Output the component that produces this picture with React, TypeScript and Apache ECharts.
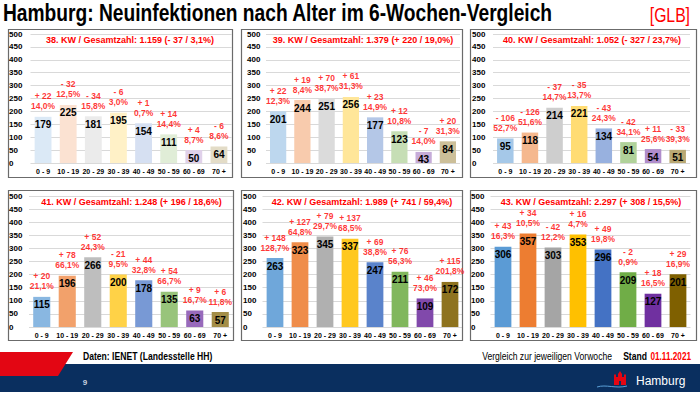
import React, { useEffect, useRef } from "react";
import * as echarts from "echarts";

const categories = ["0 - 9", "10 - 19", "20 - 29", "30 - 39", "40 - 49", "50 - 59", "60 - 69", "70 +"];
const yTicks = { min: 0, max: 500, interval: 50 };

const weekTitles = [
  "38. KW / Gesamtzahl: 1.159 (- 37 / 3,1%)",
  "39. KW / Gesamtzahl: 1.379 (+ 220 / 19,0%)",
  "40. KW / Gesamtzahl: 1.052 (- 327 / 23,7%)",
  "41. KW / Gesamtzahl: 1.248 (+ 196 / 18,6%)",
  "42. KW / Gesamtzahl: 1.989 (+ 741 / 59,4%)",
  "43. KW / Gesamtzahl: 2.297 (+ 308 / 15,5%)",
];

const kw38Values = [179, 225, 181, 195, 154, 111, 50, 64];
const kw39Values = [201, 244, 251, 256, 177, 123, 43, 84];
const kw40Values = [95, 118, 214, 221, 134, 81, 54, 51];
const kw41Values = [115, 196, 266, 200, 178, 135, 63, 57];
const kw42Values = [263, 323, 345, 337, 247, 211, 109, 172];
const kw43Values = [306, 357, 303, 353, 296, 209, 127, 201];

const kw38Change = ["+ 22", "- 32", "- 34", "- 6", "+ 1", "+ 14", "+ 4", "- 6"];
const kw39Change = ["+ 22", "+ 19", "+ 70", "+ 61", "+ 23", "+ 12", "- 7", "+ 20"];
const kw40Change = ["- 106", "- 126", "- 37", "- 35", "- 43", "- 42", "+ 11", "- 33"];
const kw41Change = ["+ 20", "+ 78", "+ 52", "- 21", "+ 44", "+ 54", "+ 9", "+ 6"];
const kw42Change = ["+ 148", "+ 127", "+ 79", "+ 137", "+ 69", "+ 76", "+ 46", "+ 115"];
const kw43Change = ["+ 43", "+ 34", "- 42", "+ 16", "+ 49", "- 2", "+ 18", "+ 29"];

const kw38Pct = ["14,0%", "12,5%", "15,8%", "3,0%", "0,7%", "14,4%", "8,7%", "8,6%"];
const kw39Pct = ["12,3%", "8,4%", "38,7%", "31,3%", "14,9%", "10,8%", "14,0%", "31,3%"];
const kw40Pct = ["52,7%", "51,6%", "14,7%", "13,7%", "24,3%", "34,1%", "25,6%", "39,3%"];
const kw41Pct = ["21,1%", "66,1%", "24,3%", "9,5%", "32,8%", "66,7%", "16,7%", "11,8%"];
const kw42Pct = ["128,7%", "64,8%", "29,7%", "68,5%", "38,8%", "56,3%", "73,0%", "201,8%"];
const kw43Pct = ["16,3%", "10,5%", "12,2%", "4,7%", "19,8%", "0,9%", "16,5%", "16,9%"];

const allValues = [kw38Values, kw39Values, kw40Values, kw41Values, kw42Values, kw43Values];
const allChanges = [kw38Change, kw39Change, kw40Change, kw41Change, kw42Change, kw43Change];
const allPcts = [kw38Pct, kw39Pct, kw40Pct, kw41Pct, kw42Pct, kw43Pct];

const categoryColors = ["#5B9BD5", "#ED7D31", "#A5A5A5", "#FFC000", "#4472C4", "#70AD47", "#7030A0", "#7F6000"];
const weekStrength = [0.22, 0.4, 0.55, 0.72, 0.88, 1];

// layout of the six panels
const layout = [
  { left: 30.5, width: 201, top: 34, height: 129, labelX: 9, box: [8, 29, 224, 148], tx: 130, ty: 40 },
  { left: 266, width: 194, top: 34, height: 129, labelX: 247, box: [241, 29, 221, 148], tx: 363, ty: 40 },
  { left: 493, width: 197, top: 34, height: 129, labelX: 472, box: [470, 29, 226, 148], tx: 592, ty: 40 },
  { left: 29, width: 204, top: 196, height: 131, labelX: 9, box: [8, 190, 225, 150], tx: 131.5, ty: 202 },
  { left: 262.5, width: 200, top: 196, height: 131, labelX: 243, box: [241, 190, 221, 150], tx: 362, ty: 202 },
  { left: 490.5, width: 200, top: 196, height: 131, labelX: 471, box: [470, 190, 226, 150], tx: 591, ty: 202 },
];

const FONT = '"Liberation Sans", Arial, Helvetica, sans-serif';

function blend(hex: string, a: number) {
  const r = parseInt(hex.slice(1, 3), 16);
  const g = parseInt(hex.slice(3, 5), 16);
  const b = parseInt(hex.slice(5, 7), 16);
  const m = (c: number) => Math.round(255 - a * (255 - c));
  return `rgb(${m(r)},${m(g)},${m(b)})`;
}

export default function App() {
  const ref = useRef<HTMLDivElement>(null);
  useEffect(() => {
    if (!ref.current) return;
    const chart = echarts.init(ref.current, undefined, { renderer: "svg" });

    const grids: any[] = [];
    const xAxes: any[] = [];
    const yAxes: any[] = [];
    const series: any[] = [];
    const graphics: any[] = [];

    layout.forEach((p, i) => {
      grids.push({ left: p.left, top: p.top, width: p.width, height: p.height, containLabel: false });
      xAxes.push({
        type: "category",
        gridIndex: i,
        data: categories,
        axisLine: { show: false },
        axisTick: { show: false },
        axisLabel: { interval: 0, fontSize: 7, fontWeight: "bold", color: "#000", margin: 5, fontFamily: FONT },
      });
      yAxes.push({
        type: "value",
        gridIndex: i,
        min: yTicks.min,
        max: yTicks.max,
        interval: yTicks.interval,
        axisLine: { show: false },
        axisTick: { show: false },
        splitLine: { lineStyle: { color: "#d9d9d9", width: 1 } },
        axisLabel: {
          fontSize: 8,
          fontWeight: "bold",
          color: "#000",
          align: "left",
          margin: p.left - p.labelX,
          fontFamily: FONT,
        },
      });
      series.push({
        type: "bar",
        xAxisIndex: i,
        yAxisIndex: i,
        barWidth: "67%",
        data: allValues[i].map((v, j) => ({
          value: v,
          itemStyle: { color: blend(categoryColors[j], weekStrength[i]) },
        })),
        label: {
          show: true,
          position: "insideTop",
          distance: 3,
          fontSize: 10,
          fontWeight: "bold",
          color: "#000",
          fontFamily: FONT,
        },
      });
      series.push({
        type: "scatter",
        xAxisIndex: i,
        yAxisIndex: i,
        symbolSize: 1,
        itemStyle: { color: "rgba(0,0,0,0)" },
        data: allValues[i],
        label: {
          show: true,
          position: "top",
          distance: 5,
          fontSize: 8.5,
          lineHeight: 10,
          fontWeight: "bold",
          color: "#ff0000",
          fontFamily: FONT,
          formatter: (prm: any) => `${allChanges[i][prm.dataIndex]}\n${allPcts[i][prm.dataIndex]}`,
        },
        z: 5,
      });
      graphics.push({
        type: "rect",
        shape: { x: p.box[0] + 0.5, y: p.box[1] + 0.5, width: p.box[2], height: p.box[3] },
        style: { fill: "none", stroke: "#6b6b6b", lineWidth: 1.2 },
        z: 1,
      });
      graphics.push({
        type: "text",
        x: p.tx,
        y: p.ty,
        style: {
          text: weekTitles[i],
          fill: "#ff0000",
          font: `bold 9px ${FONT}`,
          align: "center",
          verticalAlign: "middle",
        },
        z: 10,
      });
    });

    // main title
    graphics.push({
      type: "text",
      x: 3,
      y: 13,
      scaleX: 0.8,
      style: {
        text: "Hamburg: Neuinfektionen nach Alter im 6-Wochen-Vergleich",
        fill: "#000",
        font: `bold 24px ${FONT}`,
        align: "left",
        verticalAlign: "middle",
      },
    });
    graphics.push({
      type: "text",
      x: 690,
      y: 15,
      scaleX: 0.75,
      style: { text: "[GLB]", fill: "#ff0000", font: `21px ${FONT}`, align: "right", verticalAlign: "middle" },
    });

    // footer
    graphics.push({ type: "rect", shape: { x: 0, y: 364, width: 700, height: 28 }, style: { fill: "#0a2f5f" } });
    graphics.push({
      type: "polygon",
      shape: { points: [[0, 352], [73, 352], [58, 376], [0, 376]] },
      style: { fill: "#e30613" },
    });
    graphics.push({
      type: "text",
      x: 83,
      y: 357,
      scaleX: 0.86,
      style: { text: "Daten: IENET (Landesstelle HH)", fill: "#000", font: `bold 10px ${FONT}`, align: "left", verticalAlign: "middle" },
    });
    graphics.push({
      type: "text",
      x: 612,
      y: 357,
      scaleX: 0.86,
      style: { text: "Vergleich zur jeweiligen Vorwoche", fill: "#000", font: `10px ${FONT}`, align: "right", verticalAlign: "middle" },
    });
    graphics.push({
      type: "text",
      x: 647,
      y: 357,
      scaleX: 0.86,
      style: { text: "Stand", fill: "#000", font: `bold 10px ${FONT}`, align: "right", verticalAlign: "middle" },
    });
    graphics.push({
      type: "text",
      x: 691,
      y: 357,
      scaleX: 0.82,
      style: { text: "01.11.2021", fill: "#ff0000", font: `bold 10px ${FONT}`, align: "right", verticalAlign: "middle" },
    });
    graphics.push({
      type: "text",
      x: 85,
      y: 382,
      style: { text: "9", fill: "#c9d3e0", font: `bold 8px ${FONT}`, align: "center", verticalAlign: "middle" },
    });
    // Hamburg logo
    graphics.push({
      type: "bezierCurve",
      shape: { x1: 597, y1: 387, x2: 627, y2: 386, cpx1: 606, cpy1: 384, cpx2: 616, cpy2: 389 },
      style: { stroke: "#5aa0d8", lineWidth: 1, fill: "none" },
    });
    graphics.push({
      type: "polygon",
      shape: {
        points: [
          [614, 385], [614, 375], [615, 374], [616, 375], [616, 377], [618, 377], [618, 374],
          [620, 371], [622, 374], [622, 377], [624, 377], [624, 375], [625, 374], [626, 375], [626, 385],
        ],
      },
      style: { fill: "#e30613" },
    });
    graphics.push({ type: "rect", shape: { x: 619, y: 381, width: 2, height: 4 }, style: { fill: "#0a2f5f" } });
    graphics.push({
      type: "text",
      x: 636,
      y: 381,
      style: { text: "Hamburg", fill: "#ffffff", font: `12px ${FONT}`, align: "left", verticalAlign: "middle" },
    });

    chart.setOption({
      animation: false,
      backgroundColor: "#ffffff",
      grid: grids,
      xAxis: xAxes,
      yAxis: yAxes,
      series,
      graphic: graphics,
    });
    return () => chart.dispose();
  }, []);
  return <div ref={ref} style={{ position: "absolute", left: 0, top: 0, width: 700, height: 394 }} />;
}
